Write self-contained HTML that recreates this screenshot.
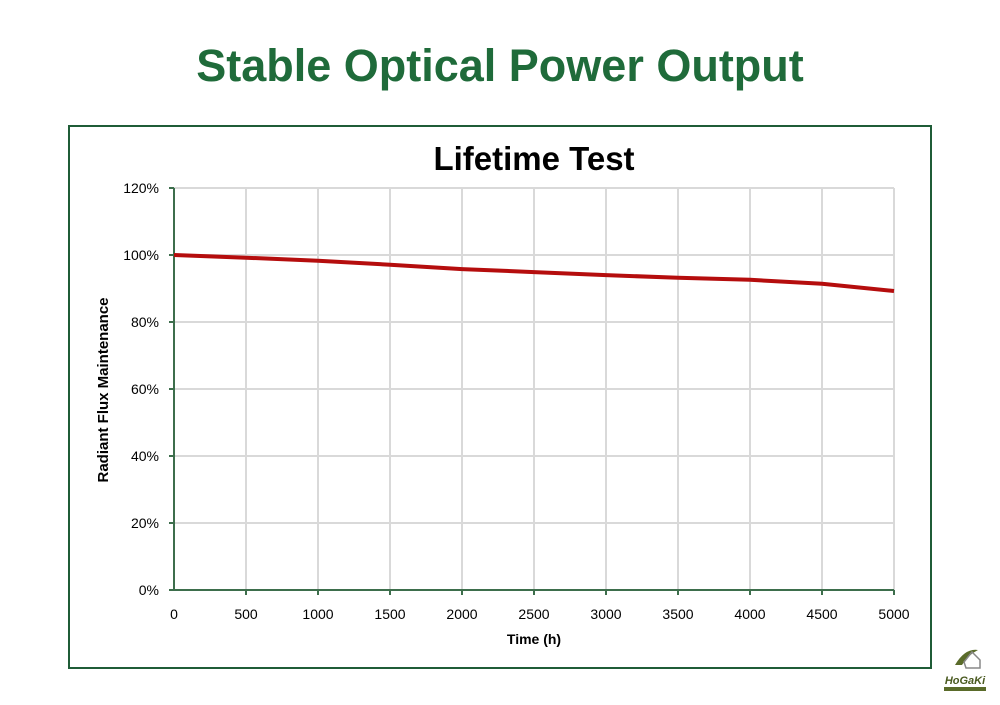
<!DOCTYPE html>
<html><head><style>
body{margin:0;width:1000px;height:700px;background:#fff;overflow:hidden;font-family:"Liberation Sans",sans-serif}
</style></head><body>
<svg width="1000" height="700" xmlns="http://www.w3.org/2000/svg" font-family="Liberation Sans, sans-serif">
<text x="500" y="81" text-anchor="middle" font-size="45" font-weight="bold" fill="#1f6b3a">Stable Optical Power Output</text>
<rect x="69" y="126" width="862" height="542" fill="none" stroke="#1f5c37" stroke-width="2"/>
<text x="534" y="170" text-anchor="middle" font-size="33" font-weight="bold" fill="#000">Lifetime Test</text>
<g stroke="#d9d9d9" stroke-width="2">
<line x1="174" y1="188" x2="894" y2="188"/><line x1="174" y1="255" x2="894" y2="255"/><line x1="174" y1="322" x2="894" y2="322"/><line x1="174" y1="389" x2="894" y2="389"/><line x1="174" y1="456" x2="894" y2="456"/><line x1="174" y1="523" x2="894" y2="523"/>
<line x1="246" y1="188" x2="246" y2="590"/><line x1="318" y1="188" x2="318" y2="590"/><line x1="390" y1="188" x2="390" y2="590"/><line x1="462" y1="188" x2="462" y2="590"/><line x1="534" y1="188" x2="534" y2="590"/><line x1="606" y1="188" x2="606" y2="590"/><line x1="678" y1="188" x2="678" y2="590"/><line x1="750" y1="188" x2="750" y2="590"/><line x1="822" y1="188" x2="822" y2="590"/><line x1="894" y1="188" x2="894" y2="590"/>
</g>
<g stroke="#3d6e4c" stroke-width="2">
<line x1="174" y1="188" x2="174" y2="591"/><line x1="173" y1="590" x2="894" y2="590"/>
<line x1="169" y1="188" x2="174" y2="188"/><line x1="169" y1="255" x2="174" y2="255"/><line x1="169" y1="322" x2="174" y2="322"/><line x1="169" y1="389" x2="174" y2="389"/><line x1="169" y1="456" x2="174" y2="456"/><line x1="169" y1="523" x2="174" y2="523"/><line x1="169" y1="590" x2="174" y2="590"/>
<line x1="246" y1="590" x2="246" y2="595"/><line x1="318" y1="590" x2="318" y2="595"/><line x1="390" y1="590" x2="390" y2="595"/><line x1="462" y1="590" x2="462" y2="595"/><line x1="534" y1="590" x2="534" y2="595"/><line x1="606" y1="590" x2="606" y2="595"/><line x1="678" y1="590" x2="678" y2="595"/><line x1="750" y1="590" x2="750" y2="595"/><line x1="822" y1="590" x2="822" y2="595"/><line x1="894" y1="590" x2="894" y2="595"/>
</g>
<g font-size="14" fill="#000" text-anchor="end">
<text x="159" y="193">120%</text><text x="159" y="260">100%</text><text x="159" y="327">80%</text><text x="159" y="394">60%</text><text x="159" y="461">40%</text><text x="159" y="528">20%</text><text x="159" y="595">0%</text>
</g>
<g font-size="14" fill="#000" text-anchor="middle">
<text x="174" y="619">0</text><text x="246" y="619">500</text><text x="318" y="619">1000</text><text x="390" y="619">1500</text><text x="462" y="619">2000</text><text x="534" y="619">2500</text><text x="606" y="619">3000</text><text x="678" y="619">3500</text><text x="750" y="619">4000</text><text x="822" y="619">4500</text><text x="894" y="619">5000</text>
</g>
<text x="534" y="644" text-anchor="middle" font-size="14" font-weight="bold">Time (h)</text>
<text transform="translate(108,390) rotate(-90)" text-anchor="middle" font-size="15" font-weight="bold">Radiant Flux Maintenance</text>
<polyline fill="none" stroke="#b50d0d" stroke-width="4" stroke-linejoin="round" points="174,255 246,257.7 318,260.7 390,264.7 462,269.1 534,272.1 606,275.1 678,277.8 750,279.8 822,283.8 894,291"/>
<g>
<path d="M955 665 Q965 648 978 650 Q968 655 962 665 Z" fill="#5a6b2a"/>
<path d="M964 662 L972 652 L980 660 L980 668 L966 668 Z" fill="none" stroke="#888" stroke-width="1.5"/>
<text x="965" y="684" text-anchor="middle" font-size="11" font-weight="bold" font-style="italic" fill="#4a5a20">HoGaKi</text>
<rect x="944" y="687" width="42" height="4" fill="#5a6b2a"/>
</g>
</svg>
</body></html>
